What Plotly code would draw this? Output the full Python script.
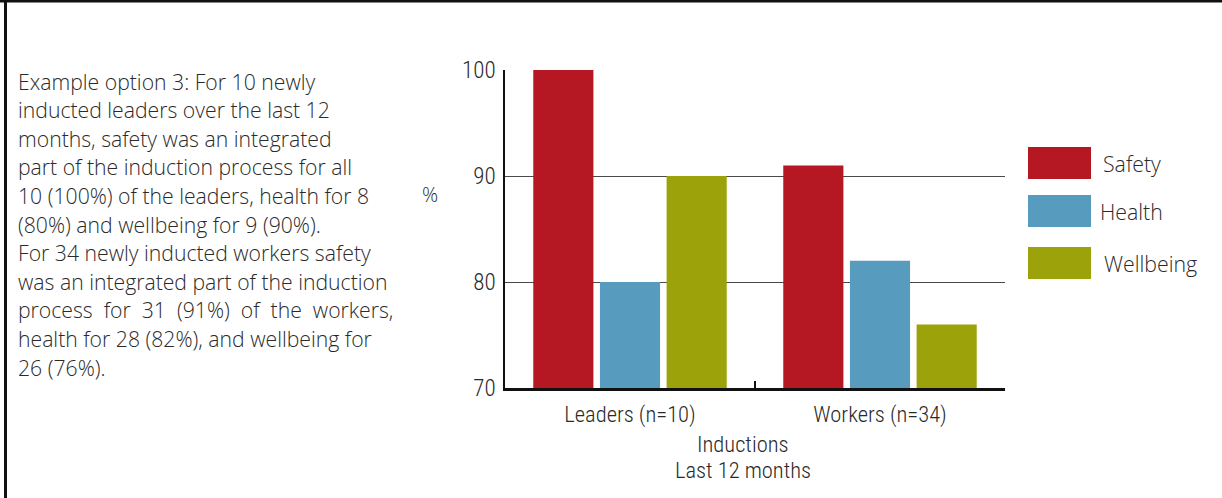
import plotly.graph_objects as go

categories = ["Leaders (n=10)", "Workers (n=34)"]
series_names = ["Safety", "Health", "Wellbeing"]
safety = [100, 91]
health = [80, 82]
wellbeing = [90, 76]
series_values = [safety, health, wellbeing]
colors = ["#B51723", "#579BBF", "#9CA30A"]
y_ticks = [70, 80, 90, 100]

text_lines = [
    "Example option 3: For 10 newly",
    "inducted leaders over the last 12",
    "months, safety was an integrated",
    "part of the induction process for all",
    "10 (100%) of the leaders, health for 8",
    "(80%) and wellbeing for 9 (90%).",
    "For 34 newly inducted workers safety",
    "was an integrated part of the induction",
    "process  for  31  (91%)  of  the  workers,",
    "health for 28 (82%), and wellbeing for",
    "26 (76%).",
]
x_title_lines = ["Inductions", "Last 12 months"]

W, H = 1222, 498
L, R, T, B = 505, 1005, 70, 388

def px(xp):
    return (xp - L) / (R - L)

def py(yp):
    return (B - yp) / (B - T)

TXT = "#2a2a2a"
NARROW = "Liberation Sans Narrow, Roboto Condensed, Arial Narrow, sans-serif"
REG = "Open Sans, Noto Sans, sans-serif"

fig = go.Figure()
for name, vals, col in zip(series_names, series_values, colors):
    fig.add_trace(go.Bar(x=categories, y=vals, name=name, marker_color=col,
                         marker_line_width=0, showlegend=False))

fig.update_layout(
    width=W, height=H,
    margin=dict(l=L, r=W - R, t=T, b=H - B, autoexpand=False),
    paper_bgcolor="white", plot_bgcolor="white",
    barmode="group", bargap=0.2, bargroupgap=0.098,
    font=dict(family=NARROW, size=22, color=TXT, weight=300),
)
fig.update_yaxes(range=[70, 100], tickvals=y_ticks, showgrid=True, gridcolor="#4a4a4a",
                 gridwidth=1.4, showline=True, linecolor="#111111", linewidth=1.5,
                 ticks="", zeroline=False,
                 tickfont=dict(family=NARROW, size=23, color=TXT, weight=300),
                 ticklabelstandoff=3)
fig.update_xaxes(showline=True, linecolor="#111111", linewidth=2.5, ticks="inside",
                 tickson="boundaries", ticklen=7, tickcolor="#111111", tickwidth=1.5,
                 tickfont=dict(family=NARROW, size=22.5, color=TXT, weight=300),
                 ticklabelstandoff=4)

shapes = []
annotations = []
# frame lines (top and left)
shapes.append(dict(type="line", xref="paper", yref="paper", x0=px(0), x1=px(W), y0=py(1), y1=py(1),
                   line=dict(color="#111111", width=3)))
shapes.append(dict(type="line", xref="paper", yref="paper", x0=px(5.5), x1=px(5.5), y0=py(0), y1=py(H),
                   line=dict(color="#111111", width=3)))

# left text block
for i, line in enumerate(text_lines):
    annotations.append(dict(text=line, xref="paper", yref="paper", x=px(16), y=py(81 + 28.6 * i),
                            xanchor="left", yanchor="middle", showarrow=False,
                            font=dict(family=REG, size=21.2, color=TXT, weight=300)))

# % label
annotations.append(dict(text="%", xref="paper", yref="paper", x=px(430), y=py(194),
                        xanchor="center", yanchor="middle", showarrow=False,
                        font=dict(family=REG, size=20, color=TXT, weight=300)))

# x title
for i, line in enumerate(x_title_lines):
    annotations.append(dict(text=line, xref="paper", yref="paper", x=px(743), y=py(444 + 26 * i),
                            xanchor="center", yanchor="middle", showarrow=False,
                            font=dict(family=NARROW, size=22.5, color=TXT, weight=300)))

# legend
leg_y = [163, 211, 263]
leg_tx = [1101, 1098, 1102]
for name, col, yc, tx in zip(series_names, colors, leg_y, leg_tx):
    shapes.append(dict(type="rect", xref="paper", yref="paper", x0=px(1028), x1=px(1091),
                       y0=py(yc - 16), y1=py(yc + 16), fillcolor=col, line=dict(width=0)))
    annotations.append(dict(text=name, xref="paper", yref="paper", x=px(tx), y=py(yc),
                            xanchor="left", yanchor="middle", showarrow=False,
                            font=dict(family=REG, size=21.3, color=TXT, weight=300)))

fig.update_layout(shapes=shapes, annotations=annotations)
fig.write_html("out.html", config={"displayModeBar": False},
               post_script="document.body.style.margin='0';document.body.style.overflow='hidden';")
